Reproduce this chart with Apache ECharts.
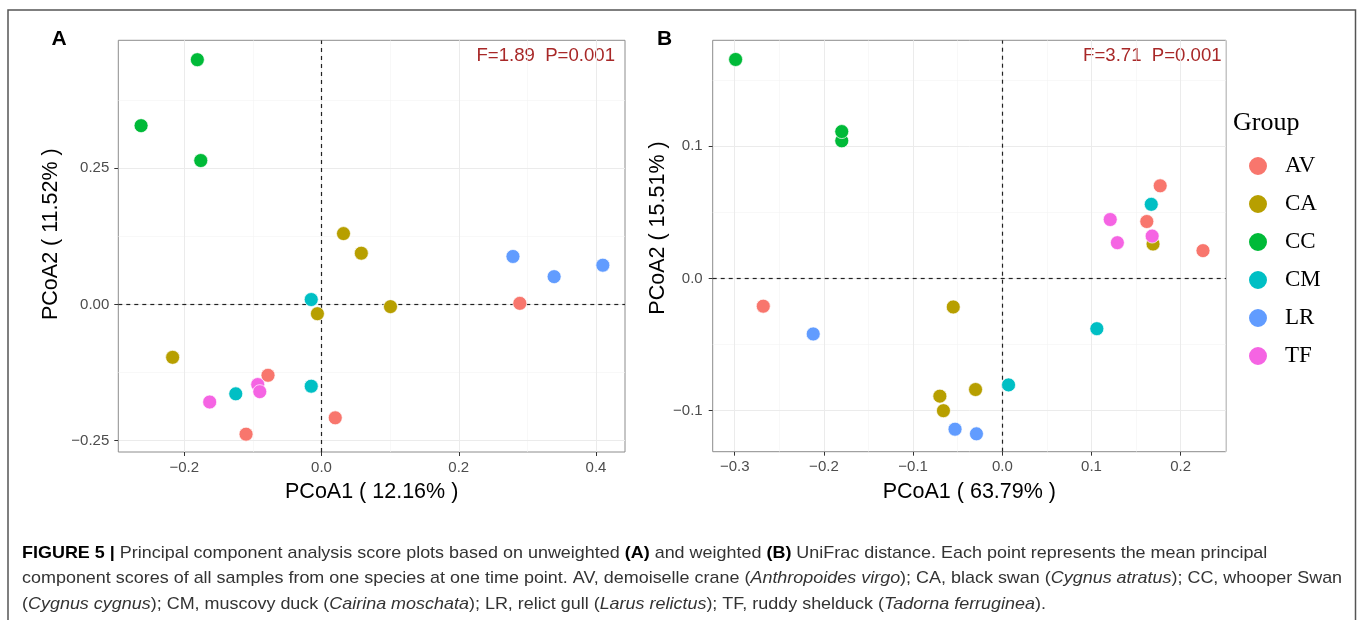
<!DOCTYPE html>
<html>
<head>
<meta charset="utf-8">
<script src="https://cdn.jsdelivr.net/npm/echarts@6/dist/echarts.min.js"></script>
<style>
  html, body { margin: 0; padding: 0; background: #fff; }
  #main { width: 1363px; height: 620px; }
</style>
</head>
<body>
<div id="main"></div>
<script>
// groups and ggplot hue colours
const groups = ['AV', 'CA', 'CC', 'CM', 'LR', 'TF'];
const colors = ['#F8766D', '#B79F00', '#00BA38', '#00BFC4', '#619CFF', '#F564E3'];

// panel A (unweighted UniFrac): [PCoA1, PCoA2]
const avA = [[0.289, 0.002], [-0.078, -0.130], [0.020, -0.208], [-0.110, -0.238]];
const caA = [[0.032, 0.130], [0.058, 0.094], [0.1005, -0.004], [-0.006, -0.017], [-0.217, -0.097]];
const ccA = [[-0.181, 0.449], [-0.263, 0.328], [-0.176, 0.264]];
const cmA = [[-0.015, 0.009], [-0.015, -0.150], [-0.125, -0.164]];
const lrA = [[0.279, 0.088], [0.339, 0.051], [0.410, 0.072]];
const tfA = [[-0.093, -0.147], [-0.090, -0.160], [-0.163, -0.179]];

// panel B (weighted UniFrac)
const avB = [[0.177, 0.070], [0.162, 0.043], [0.225, 0.021], [-0.268, -0.021]];
const caB = [[0.169, 0.026], [-0.055, -0.0216], [-0.030, -0.084], [-0.070, -0.089], [-0.066, -0.100]];
const ccB = [[-0.299, 0.1655], [-0.180, 0.104], [-0.180, 0.111]];
const cmB = [[0.167, 0.056], [0.106, -0.038], [0.007, -0.0805]];
const lrB = [[-0.212, -0.042], [-0.053, -0.114], [-0.029, -0.1175]];
const tfB = [[0.121, 0.0445], [0.129, 0.027], [0.168, 0.032]];

// axis ticks
const xTicksA = [-0.2, 0, 0.2, 0.4];
const xMinorA = [-0.1, 0.1, 0.3];
const yTicksA = [-0.25, 0, 0.25];
const yMinorA = [-0.125, 0.125, 0.375];
const xTicksB = [-0.3, -0.2, -0.1, 0, 0.1, 0.2];
const xMinorB = [-0.25, -0.15, -0.05, 0.05, 0.15, 0.25];
const yTicksB = [-0.1, 0, 0.1];
const yMinorB = [-0.05, 0.05, 0.15];

const statsA = 'F=1.89  P=0.001';
const statsB = 'F=3.71  P=0.001';

const dataA = [avA, caA, ccA, cmA, lrA, tfA];
const dataB = [avB, caB, ccB, cmB, lrB, tfB];

const chart = echarts.init(document.getElementById('main'));

const fmt = (d) => (v) => (v < 0 ? '\u2212' : '') + Math.abs(v).toFixed(d);

function mainAxis(grid, min, max, ticks, digits, name, gap, margin, isY, shift) {
  return {
    type: 'value', gridIndex: grid, min: min, max: max,
    position: isY ? 'left' : 'bottom',
    name: name, nameLocation: 'middle', nameGap: gap,
    nameTextStyle: {
      color: '#000', fontSize: 21.5, fontFamily: 'Liberation Sans',
      padding: shift ? [0, 0, 0, shift] : 0
    },
    axisLine: { show: false, onZero: false },
    axisTick: { show: true, length: 4, customValues: ticks, lineStyle: { color: '#333' } },
    axisLabel: {
      customValues: ticks, formatter: fmt(digits), margin: margin,
      color: '#4d4d4d', fontSize: 15, fontFamily: 'Liberation Sans'
    },
    splitLine: { show: true, lineStyle: { color: '#ebebeb', width: 1 } },
    z: 1
  };
}

function minorAxis(grid, min, max, ticks, isY) {
  return {
    type: 'value', gridIndex: grid, min: min, max: max,
    position: isY ? 'right' : 'top',
    axisLine: { show: false, onZero: false },
    axisTick: { show: false, customValues: ticks },
    axisLabel: { show: false },
    splitLine: { show: true, lineStyle: { color: '#f4f4f4', width: 0.6 } },
    z: 0
  };
}

const series = [];
[dataA, dataB].forEach((panel, p) => {
  panel.forEach((pts, i) => {
    const s = {
      name: groups[i], type: 'scatter',
      xAxisIndex: p * 2, yAxisIndex: p * 2,
      data: pts, symbolSize: 14,
      itemStyle: { color: colors[i], opacity: 1, borderColor: '#fff', borderWidth: 0.7 },
      emphasis: { disabled: true },
      z: 3
    };
    if (i === 0) {
      s.markLine = {
        silent: true, symbol: 'none', z: 2, animation: false,
        label: { show: false },
        lineStyle: { type: [4, 4], color: '#222', width: 1.2 },
        data: [{ xAxis: 0 }, { yAxis: 0 }]
      };
    }
    series.push(s);
  });
});

const caption = [
  '{b|FIGURE 5 |} Principal component analysis score plots based on unweighted {b|(A)} and weighted {b|(B)} UniFrac distance. Each point represents the mean principal',
  'component scores of all samples from one species at one time point. AV, demoiselle crane ({i|Anthropoides virgo}); CA, black swan ({i|Cygnus atratus}); CC, whooper Swan',
  '({i|Cygnus cygnus}); CM, muscovy duck ({i|Cairina moschata}); LR, relict gull ({i|Larus relictus}); TF, ruddy shelduck ({i|Tadorna ferruginea}).'
];

const graphics = [
  { type: 'rect', shape: { x: 8, y: 10, width: 1347.5, height: 614 }, style: { fill: null, stroke: '#555', lineWidth: 1.5 }, silent: true },
  { type: 'text', x: 59, y: 39, style: { text: 'A', fontSize: 21, fontWeight: 'bold', fontFamily: 'Liberation Sans', fill: '#000', align: 'center', verticalAlign: 'middle' } },
  { type: 'text', x: 664.5, y: 39.5, style: { text: 'B', fontSize: 21, fontWeight: 'bold', fontFamily: 'Liberation Sans', fill: '#000', align: 'center', verticalAlign: 'middle' } },
  { type: 'text', x: 615, y: 55.7, style: { text: statsA, fontSize: 18.6, fontFamily: 'Liberation Sans', fill: '#A82828', align: 'right', verticalAlign: 'middle' } },
  { type: 'text', x: 1221.6, y: 55.7, style: { text: statsB, fontSize: 18.6, fontFamily: 'Liberation Sans', fill: '#A82828', align: 'right', verticalAlign: 'middle' } },
  { type: 'text', x: 1233, y: 123, style: { text: 'Group', fontSize: 26, fontFamily: 'Liberation Serif', fill: '#000', verticalAlign: 'middle' } }
];
caption.forEach((line, k) => {
  graphics.push({
    type: 'text', x: 22, y: 553 + k * 25.5, scaleX: 1.056,
    style: {
      text: line, fontSize: 17, fontFamily: 'Liberation Sans', fill: '#333', verticalAlign: 'middle',
      rich: {
        b: { fontWeight: 'bold', fill: '#000', fontSize: 17, fontFamily: 'Liberation Sans' },
        i: { fontStyle: 'italic', fill: '#333', fontSize: 17, fontFamily: 'Liberation Sans' }
      }
    }
  });
});

const option = {
  backgroundColor: '#fff',
  animation: false,
  grid: [
    { left: 118.3, top: 40.3, width: 506.7, height: 411.7, show: true, borderColor: '#8c8c8c', borderWidth: 1, containLabel: false },
    { left: 712.7, top: 40.3, width: 513.3, height: 411.4, show: true, borderColor: '#8c8c8c', borderWidth: 1, containLabel: false }
  ],
  xAxis: [
    mainAxis(0, -0.2962, 0.4423, xTicksA, 1, 'PCoA1 ( 12.16% )', 29, 8, false, 0),
    minorAxis(0, -0.2962, 0.4423, xMinorA, false),
    mainAxis(1, -0.3247, 0.2508, xTicksB, 1, 'PCoA1 ( 63.79% )', 29, 8, false, 0),
    minorAxis(1, -0.3247, 0.2508, xMinorB, false)
  ],
  yAxis: [
    mainAxis(0, -0.2707, 0.4846, yTicksA, 2, 'PCoA2 ( 11.52% )', 56, 9, true, 24),
    minorAxis(0, -0.2707, 0.4846, yMinorA, true),
    mainAxis(1, -0.131, 0.180, yTicksB, 1, 'PCoA2 ( 15.51% )', 39, 10, true, 36),
    minorAxis(1, -0.131, 0.180, yMinorB, true)
  ],
  legend: {
    data: groups, orient: 'vertical', left: 1242, top: 149.5,
    icon: 'circle', itemWidth: 20, itemHeight: 20, itemGap: 15,
    selectedMode: false,
    textStyle: { fontFamily: 'Liberation Serif', fontSize: 23, color: '#000', lineHeight: 20, padding: [0, 0, 0, 12] }
  },
  graphic: graphics,
  series: series
};

chart.setOption(option);
</script>
</body>
</html>
